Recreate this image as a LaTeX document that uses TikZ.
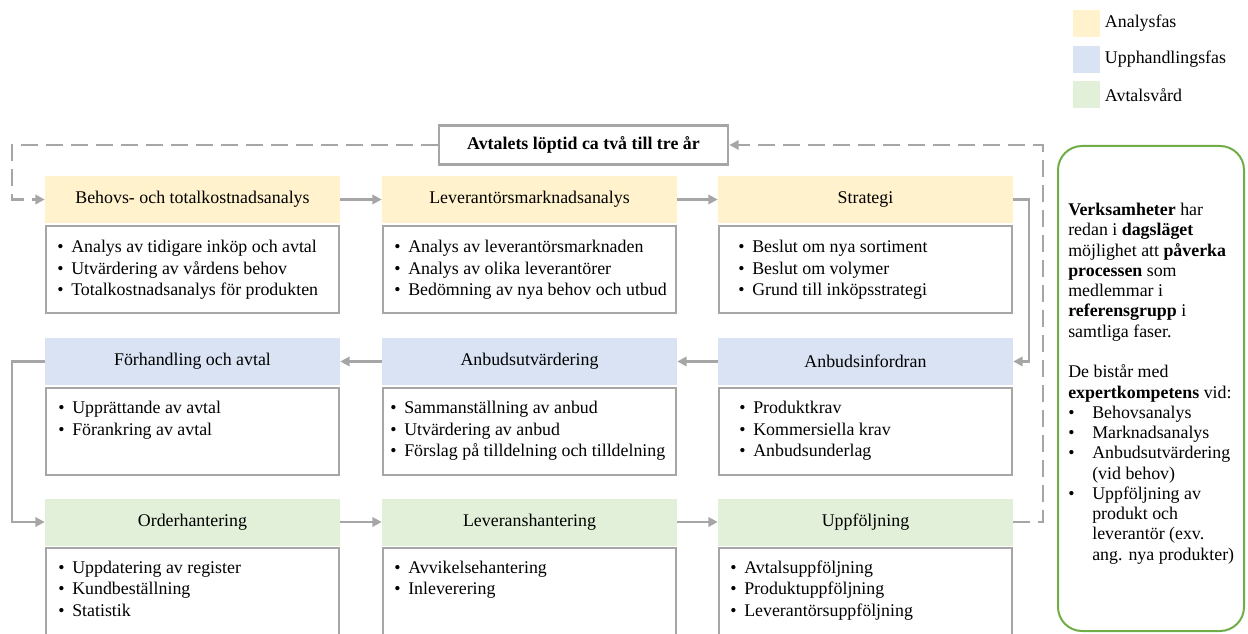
\documentclass[tikz,border=0pt]{standalone}
\usepackage{fontspec}
\setmainfont{Liberation Serif}
\usetikzlibrary{positioning}
\usetikzlibrary{arrows.meta}
\usetikzlibrary{shapes}

\definecolor{analys}{HTML}{FFF2CC}
\definecolor{upphandling}{HTML}{DAE3F3}
\definecolor{avtal}{HTML}{E2F0D9}
\definecolor{linegray}{HTML}{A6A6A6}
\definecolor{boxgreen}{HTML}{70AD47}

\newcommand{\bodybullet}{\makebox[10.5pt][l]{\textbullet}}
\newcommand{\infobullet}{\makebox[18pt][l]{\textbullet}}

\tikzset{
        phasenode/.style={align=center,inner sep=0pt},
        % Phase headers
        phase_head/.style={phasenode, rectangle, minimum width=221.25pt, minimum height=35.25pt},
        % Boxes with the activities
        phase_body/.style={phasenode, rectangle, draw=linegray, line width=1.5pt, fill=white, minimum width=219.75pt, minimum height=65.25pt},
        % Bullet lists inside the boxes
        body_list/.style={anchor=north west, align=left, inner sep=0pt},
        % Contract period box
        title_box/.style={phasenode, rectangle, draw=linegray, line width=2pt, fill=white, minimum width=216.75pt, minimum height=29.25pt},
        % Side box
        info_box/.style={rectangle, draw=boxgreen, line width=1.5pt, rounded corners=18pt, minimum width=139.5pt, minimum height=363.75pt},
        % Legend
        legend_box/.style={rectangle, inner sep=0pt, minimum size=20.25pt},
        legend_text/.style={anchor=west},
        % Connectors
        flow/.style={draw=linegray, line width=1.8pt, -{Triangle[length=7pt,width=7pt]}},
        loop_flow/.style={flow, dash pattern=on 12.75pt off 6pt}
}

\begin{document}
\begin{tikzpicture}[x=0.75pt, y=-0.75pt, font=\fontsize{13.4pt}{16.1pt}\selectfont]
    \useasboundingbox (0,0) rectangle (1248,634);

    % legend
    \node[legend_box, fill=analys] (leg_analys) at (1086.5,23.5) {};
    \node[legend_text, right=0pt of leg_analys] (leg_analys_text) {Analysfas};
    \node[legend_box, fill=upphandling] (leg_upph) at (1086.5,59.5) {};
    \node[legend_text, right=0pt of leg_upph] (leg_upph_text) {Upphandlingsfas};
    \node[legend_box, fill=avtal] (leg_avtal) at (1086.5,95) {};
    \node[legend_text, right=0pt of leg_avtal] (leg_avtal_text) {Avtalsvård};

    % contract period
    \node[title_box] (loptid) at (583.5,145) {\textbf{Avtalets löptid ca två till tre år}};

    % Analysfas
    \node[phase_head, fill=analys] (behov_head) at (192.5,199.5) {Behovs- och totalkostnadsanalys};
    \node[phase_head, fill=analys] (lev_head) at (529.5,199.5) {Leverantörsmarknadsanalys};
    \node[phase_head, fill=analys] (strat_head) at (865.5,199.5) {Strategi};
    \node[phase_body, below=1.25pt of behov_head] (behov_body) {};
    \node[phase_body, below=1.25pt of lev_head] (lev_body) {};
    \node[phase_body, below=1.25pt of strat_head] (strat_body) {};
    \node[body_list] (behov_list) at ([shift={(12,15)}]behov_body.north west)
        {\bodybullet Analys av tidigare inköp och avtal\\ \bodybullet Utvärdering av vårdens behov\\ \bodybullet Totalkostnadsanalys för produkten};
    \node[body_list] (lev_list) at ([shift={(12,15)}]lev_body.north west)
        {\bodybullet Analys av leverantörsmarknaden\\ \bodybullet Analys av olika leverantörer\\ \bodybullet Bedömning av nya behov och utbud};
    \node[body_list] (strat_list) at ([shift={(20,15)}]strat_body.north west)
        {\bodybullet Beslut om nya sortiment\\ \bodybullet Beslut om volymer\\ \bodybullet Grund till inköpsstrategi};

    % Upphandlingsfas
    \node[phase_head, fill=upphandling] (forh_head) at (192.5,361.5) {Förhandling och avtal};
    \node[phase_head, fill=upphandling] (anbut_head) at (529.5,361.5) {Anbudsutvärdering};
    \node[phase_head, fill=upphandling] (anbin_head) at (865.5,361.5) {Anbudsinfordran};
    \node[phase_body, below=1.25pt of forh_head] (forh_body) {};
    \node[phase_body, below=1.25pt of anbut_head] (anbut_body) {};
    \node[phase_body, below=1.25pt of anbin_head] (anbin_body) {};
    \node[body_list] (forh_list) at ([shift={(13,14)}]forh_body.north west)
        {\bodybullet Upprättande av avtal\\ \bodybullet Förankring av avtal};
    \node[body_list] (anbut_list) at ([shift={(8,14)}]anbut_body.north west)
        {\bodybullet Sammanställning av anbud\\ \bodybullet Utvärdering av anbud\\ \bodybullet Förslag på tilldelning och tilldelning};
    \node[body_list] (anbin_list) at ([shift={(21,14)}]anbin_body.north west)
        {\bodybullet Produktkrav\\ \bodybullet Kommersiella krav\\ \bodybullet Anbudsunderlag};

    % Avtalsvård
    \node[phase_head, fill=avtal] (order_head) at (192.5,522) {Orderhantering};
    \node[phase_head, fill=avtal] (leverans_head) at (529.5,522) {Leveranshantering};
    \node[phase_head, fill=avtal] (uppf_head) at (865.5,522) {Uppföljning};
    \node[phase_body, below=1.25pt of order_head] (order_body) {};
    \node[phase_body, below=1.25pt of leverans_head] (leverans_body) {};
    \node[phase_body, below=1.25pt of uppf_head] (uppf_body) {};
    \node[body_list] (order_list) at ([shift={(13,13)}]order_body.north west)
        {\bodybullet Uppdatering av register\\ \bodybullet Kundbeställning\\ \bodybullet Statistik};
    \node[body_list] (leverans_list) at ([shift={(12,13)}]leverans_body.north west)
        {\bodybullet Avvikelsehantering\\ \bodybullet Inleverering};
    \node[body_list] (uppf_list) at ([shift={(12,13)}]uppf_body.north west)
        {\bodybullet Avtalsuppföljning\\ \bodybullet Produktuppföljning\\ \bodybullet Leverantörsuppföljning};

    % side box
    \node[info_box] (info) at (1151,388.5) {};
    \node[body_list, font=\fontsize{13.4pt}{15.2pt}\selectfont] (info_text) at ([shift={(11,58)}]info.north west)
        {\textbf{Verksamheter} har\\ redan i \textbf{dagsläget}\\ möjlighet att \textbf{påverka}\\
         \textbf{processen} som\\ medlemmar i\\ \textbf{referensgrupp} i\\ samtliga faser.\\[15.2pt]
         De bistår med\\ \textbf{expertkompetens} vid:\\
         \infobullet Behovsanalys\\ \infobullet Marknadsanalys\\ \infobullet Anbudsutvärdering\\
         \hspace*{18pt}(vid behov)\\ \infobullet Uppföljning av\\ \hspace*{18pt}produkt och\\
         \hspace*{18pt}leverantör (exv.\\ \hspace*{18pt}ang. nya produkter)};

    % process flow
    \coordinate (loop_left) at (12,199.5);
    \draw[flow] (behov_head) -- (lev_head);
    \draw[flow] (lev_head) -- (strat_head);
    \draw[flow] (strat_head.east) -- ++(16,0) |- (anbin_head.east);
    \draw[flow] (anbin_head) -- (anbut_head);
    \draw[flow] (anbut_head) -- (forh_head);
    \draw[flow] (forh_head.west) -- ++(-33,0) |- (order_head.west);
    \draw[flow] (order_head) -- (leverans_head);
    \draw[flow] (leverans_head) -- (uppf_head);
    \draw[loop_flow] (uppf_head.east) -- ++(30,0) |- (loptid.east);
    \draw[loop_flow] (loptid.west) -| (loop_left) -- (behov_head.west);
\end{tikzpicture}
\end{document}
